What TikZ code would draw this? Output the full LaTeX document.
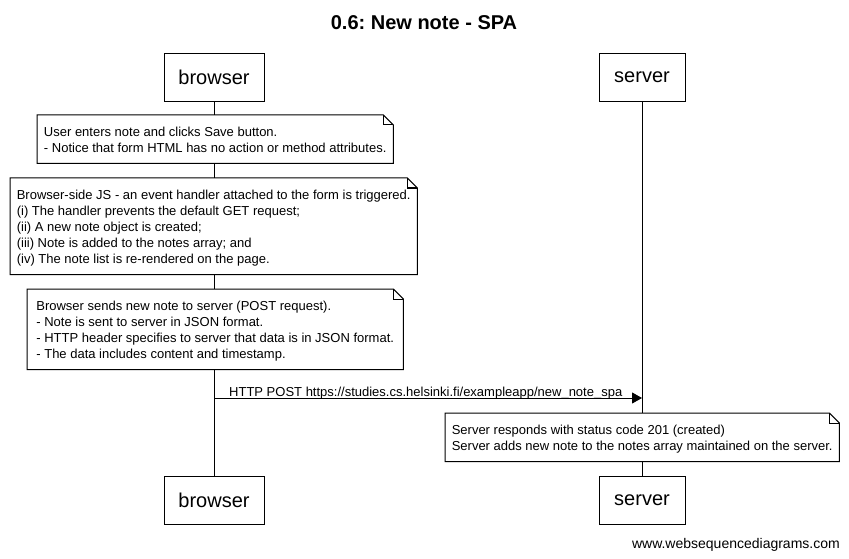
\documentclass[tikz,border=0pt]{standalone}
\usepackage{fontspec}
\setmainfont{Liberation Sans}
\usetikzlibrary{arrows.meta}
\frenchspacing
\newcommand{\notefont}{\fontsize{13}{16}\selectfont}
\newcommand{\fs}{\rule{0pt}{13.5pt}}
\newcommand{\ls}{\rule[-2.5pt]{0pt}{2.5pt}}
\newcommand{\drawnote}[1]{%
  \draw[frame] (#1.north west) -- ([xshift=-10pt]#1.north east) -- ([yshift=-10pt]#1.north east) -- (#1.south east) -- (#1.south west) -- cycle;
  \draw[frame] ([xshift=-10pt]#1.north east) |- ([yshift=-10pt]#1.north east);}
\begin{document}
\begin{tikzpicture}[x=1pt,y=-1pt,
  actor/.style={draw, line width=1pt, fill=white, minimum height=48pt, font=\fontsize{20}{24}\selectfont, inner sep=0pt},
  note/.style={fill=white, align=left, anchor=north west, inner xsep=5pt, inner ysep=8pt, font=\notefont},
  frame/.style={line width=1pt},
  life/.style={line width=1pt},
  msg/.style={line width=1pt, -{Triangle[length=10pt,width=11pt]}},
  lbl/.style={font=\notefont, inner sep=0pt}]
\fill[white] (0,0) rectangle (849,559);
\path[use as bounding box] (0,0) rectangle (849,559);

\node[font=\fontsize{20}{24}\selectfont\bfseries, anchor=base, inner sep=0pt] (title) at (424,30) {0.6: New note - SPA};

\node[actor, minimum width=100pt] (bt) at (214,77.5) {browser};
\node[actor, minimum width=86pt] (st) at (642,77.5) {server};
\node[actor, minimum width=100pt] (bb) at (214,500) {browser};
\node[actor, minimum width=86pt] (sb) at (642,500) {server};

\draw[life] (bt) -- (bb);
\draw[life] (st) -- (sb);

\node[note, minimum width=356pt] (n1) at (37,115) {\fs User enters note and clicks Save button.\\- Notice that form HTML has no action or method attributes.\ls};
\drawnote{n1}

\node[note, minimum width=407pt] (n2) at (10,178) {\fs Browser-side JS - an event handler attached to the form is triggered.\\(i) The handler prevents the default GET request;\\(ii) A new note object is created;\\(iii) Note is added to the notes array; and\\(iv) The note list is re-rendered on the page.\ls};
\drawnote{n2}

\node[note, minimum width=376pt] (n3) at (27,289) {\fs Browser sends new note to server (POST request).\\- Note is sent to server in JSON format.\\- HTTP header specifies to server that data is in JSON format.\\- The data includes content and timestamp.\ls};
\drawnote{n3}

\coordinate (my) at (0,398);
\draw[msg] (bt |- my) -- (st |- my);
\node[lbl, anchor=base west] (l1) at (229,396) {HTTP POST https://studies.cs.helsinki.fi/exampleapp/new\_note\_spa};

\node[note, minimum width=394pt] (n4) at (445,413) {\fs Server responds with status code 201 (created)\\Server adds new note to the notes array maintained on the server.\ls};
\drawnote{n4}

\node[anchor=base east, font=\fontsize{14}{16}\selectfont, inner sep=0pt] (wm) at (840,548) {www.websequencediagrams.com};
\end{tikzpicture}
\end{document}
